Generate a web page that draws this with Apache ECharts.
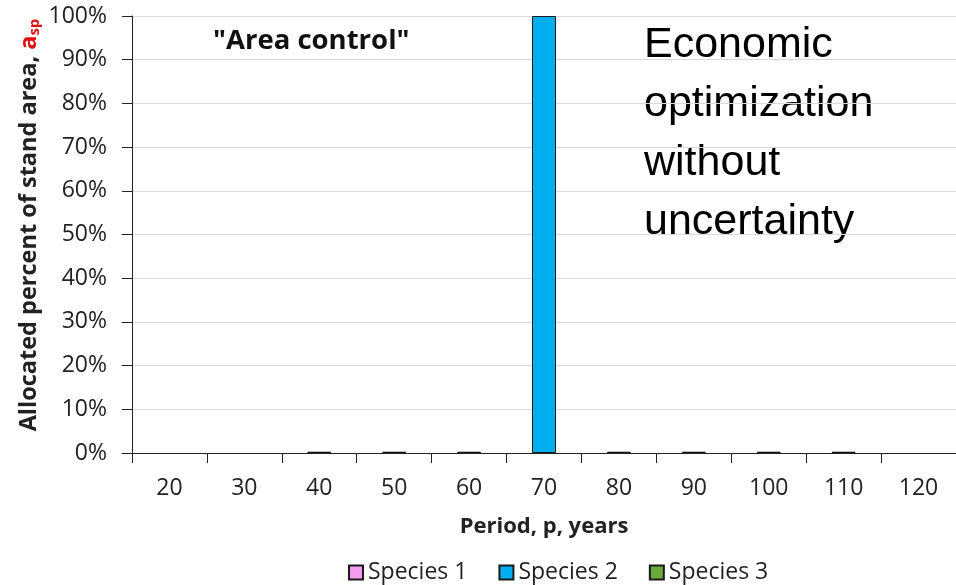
<!DOCTYPE html>
<html>
<head>
<meta charset="utf-8">
<script src="https://cdn.jsdelivr.net/npm/echarts@6/dist/echarts.min.js"></script>
<style>
  html, body { margin: 0; padding: 0; background: #fff; }
  #chart { width: 956px; height: 585px; }
</style>
</head>
<body>
<div id="chart"></div>
<script>
// Rotation periods (years)
const periods = ['20', '30', '40', '50', '60', '70', '80', '90', '100', '110', '120'];
// Allocated share of stand area per species, in percent (null = nothing allocated)
const species1 = [null, null, null, null, null, null, null, null, null, null, null];
const species2 = [null, null, null, null, null, 100, null, null, null, null, null];
const species3 = [null, null, 0.3, 0.3, 0.3, null, 0.3, 0.3, 0.3, 0.3, null];
const seriesNames = ['Species 1', 'Species 2', 'Species 3'];
const seriesColors = ['#f29cf0', '#00aeef', '#6aaa3a'];

const chart = echarts.init(document.getElementById('chart'));
const allData = [species1, species2, species3];
const FONT = 'Open Sans';

chart.setOption({
  animation: false,
  grid: { left: 132, top: 16, width: 826, height: 437, containLabel: false },
  legend: {
    top: 556,
    left: 343,
    itemWidth: 14,
    itemHeight: 14,
    itemGap: 31,
    icon: 'rect',
    textStyle: { fontFamily: FONT, fontSize: 23, color: '#222' },
    data: seriesNames
  },
  xAxis: {
    type: 'category',
    data: periods,
    boundaryGap: true,
    name: 'Period, p, years',
    nameLocation: 'middle',
    nameGap: 63,
    nameTextStyle: { fontFamily: FONT, fontWeight: 'bold', fontSize: 22, color: '#222' },
    axisLine: { lineStyle: { color: '#222', width: 1 } },
    axisTick: { show: true, alignWithLabel: false, length: 10, lineStyle: { color: '#222' } },
    axisLabel: { fontFamily: FONT, fontSize: 23, color: '#222', margin: 24 }
  },
  yAxis: {
    type: 'value',
    min: 0,
    max: 100,
    interval: 10,
    axisLine: { show: true, lineStyle: { color: '#222', width: 1 } },
    axisTick: { show: true, length: 10, lineStyle: { color: '#222' } },
    axisLabel: { fontFamily: FONT, fontSize: 23, color: '#222', margin: 25, formatter: '{value}%' },
    splitLine: { lineStyle: { color: '#d9d9d9', width: 1 } }
  },
  series: seriesNames.map((name, i) => ({
    name: name,
    type: 'bar',
    stack: 'area',
    barWidth: 24,
    data: allData[i].map(v => (v === null ? '-' : v)),
    itemStyle: { color: seriesColors[i], borderColor: '#1a1a1a', borderWidth: 1 }
  })),
  graphic: [
    {
      // vertical axis title with red subscripted symbol
      type: 'text', x: 29, y: 225, rotation: Math.PI / 2,
      style: {
        text: '{t|Allocated percent of stand area, }{a|a}{s|sp}',
        align: 'center', verticalAlign: 'middle',
        rich: {
          t: { font: 'bold 23.5px "Open Sans"', fill: '#222' },
          a: { font: 'bold 23.5px "Open Sans"', fill: '#e01010' },
          s: { font: 'bold 15px "Open Sans"', fill: '#e01010', padding: [12, 0, 0, 0] }
        }
      }
    },
    {
      type: 'text', left: 213, top: 27,
      style: { text: '"Area control"', font: 'bold 27.5px "Open Sans"', fill: '#111' }
    },
    {
      type: 'text', left: 644, top: 16,
      style: {
        text: 'Economic\noptimization\nwithout\nuncertainty',
        font: '43px "Liberation Sans"', lineHeight: 59, fill: '#000'
      }
    }
  ]
});
</script>
</body>
</html>
